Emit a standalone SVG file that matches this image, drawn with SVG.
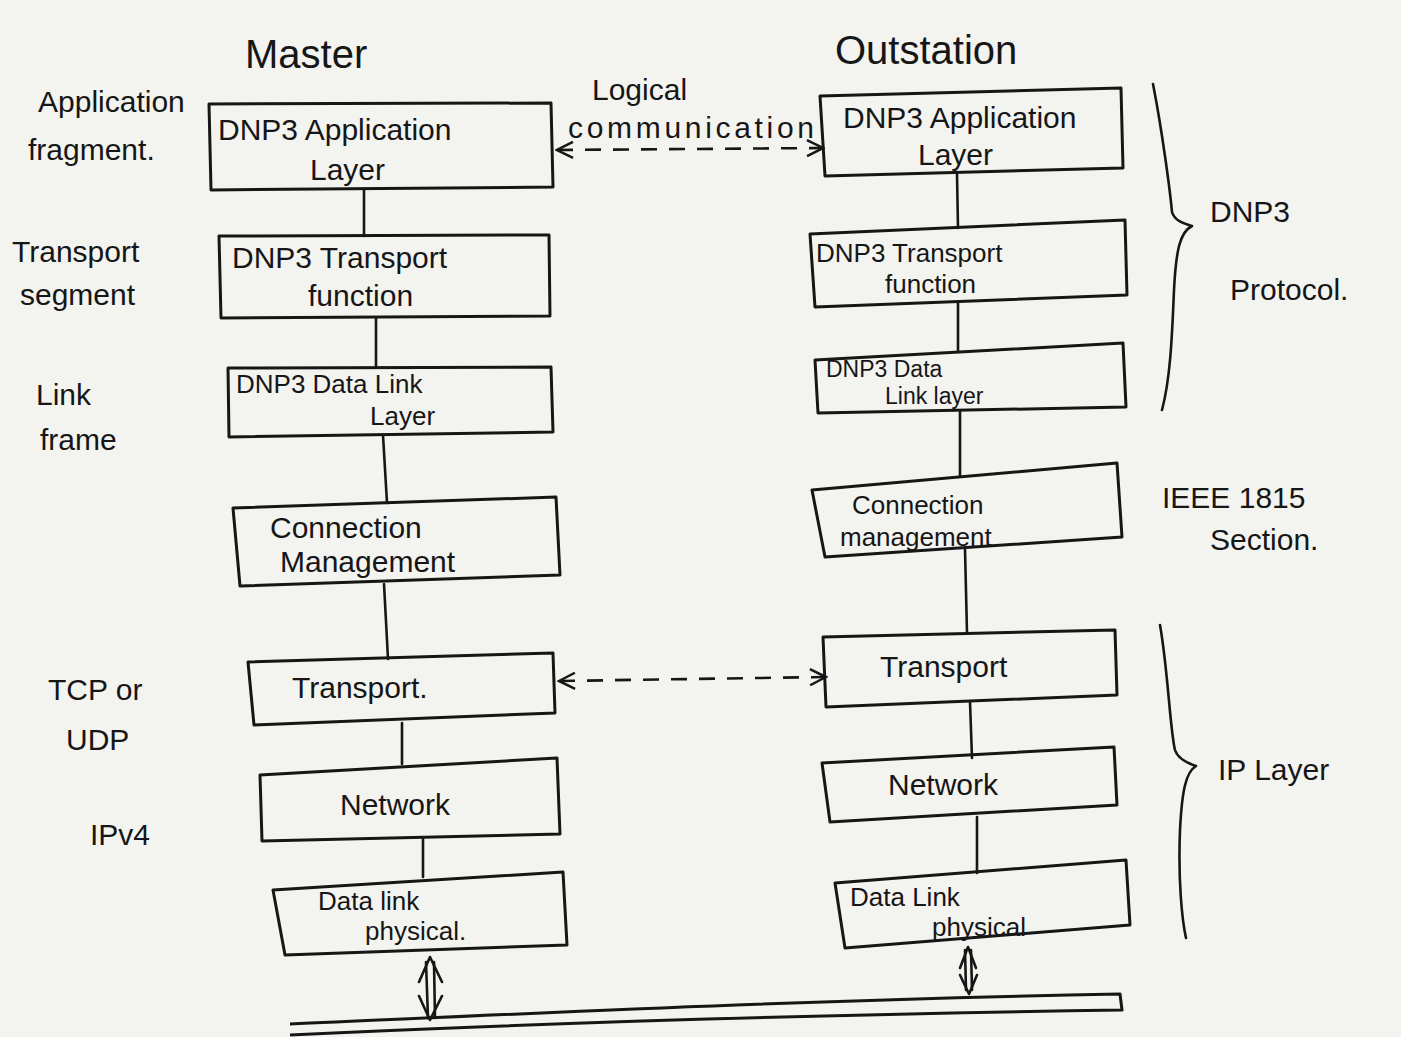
<svg xmlns="http://www.w3.org/2000/svg" width="1401" height="1037" viewBox="0 0 1401 1037">
  <defs>
    <marker id="open" viewBox="0 0 20 20" refX="18" refY="10" markerWidth="20" markerHeight="20" markerUnits="userSpaceOnUse" orient="auto-start-reverse">
      <path d="M2,2 L18,10 L2,18" fill="none" stroke="#161616" stroke-width="2.5"/>
    </marker>
    <style>
      .box { fill: none; stroke: #161616; stroke-width: 3; stroke-linejoin: round; }
      .line { fill: none; stroke: #161616; stroke-width: 2.6; stroke-linecap: round; stroke-linejoin: round; }
      .dash { fill: none; stroke: #161616; stroke-width: 2.6; stroke-dasharray: 16 12; }
      .t { font-family: "Liberation Sans", "DejaVu Sans", sans-serif; fill: #161616; font-size: 30px; }
      .s { font-size: 26px; }
      .xs { font-size: 23px; }
      .big { font-size: 40px; }
    </style>
  </defs>

  <rect width="1401" height="1037" fill="#f3f3f0"/>

  <!-- column headings -->
  <text class="t big" x="245" y="68">Master</text>
  <text class="t big" x="835" y="64">Outstation</text>

  <!-- label over the application-layer link -->
  <g id="lbl-logical">
    <text class="t" x="592" y="100">Logical</text>
    <text class="t" x="568" y="138" textLength="246" lengthAdjust="spacing">communication</text>
  </g>

  <!-- left-hand annotations -->
  <g id="lbl-app-fragment">
    <text class="t" x="38" y="112">Application</text>
    <text class="t" x="28" y="160">fragment.</text>
  </g>
  <g id="lbl-transport-segment">
    <text class="t" x="12" y="262">Transport</text>
    <text class="t" x="20" y="305">segment</text>
  </g>
  <g id="lbl-link-frame">
    <text class="t" x="36" y="405">Link</text>
    <text class="t" x="40" y="450">frame</text>
  </g>
  <g id="lbl-tcp-udp">
    <text class="t" x="48" y="700">TCP or</text>
    <text class="t" x="66" y="750">UDP</text>
  </g>
  <g id="lbl-ipv4">
    <text class="t" x="90" y="845">IPv4</text>
  </g>

  <!-- right-hand annotations -->
  <g id="lbl-dnp3-protocol">
    <text class="t" x="1210" y="222">DNP3</text>
    <text class="t" x="1230" y="300">Protocol.</text>
  </g>
  <g id="lbl-ieee">
    <text class="t" x="1162" y="508">IEEE 1815</text>
    <text class="t" x="1210" y="550">Section.</text>
  </g>
  <g id="lbl-ip-layer">
    <text class="t" x="1218" y="780">IP Layer</text>
  </g>

  <!-- braces -->
  <g id="braces">
    <path class="line" d="M1153,84 C1162,130 1170,190 1172,212 C1175,222 1186,224 1192,226 C1180,232 1176,250 1174,290 C1172,340 1170,380 1162,410"/>
    <path class="line" d="M1160,625 C1168,670 1170,730 1175,750 C1178,760 1190,764 1196,766 C1186,772 1182,790 1180,830 C1178,880 1182,920 1186,938"/>
  </g>

  <!-- master stack -->
  <g id="m-app">
    <path class="box" d="M209,104 L551,103 L553,187 L211,190 Z"/>
    <text class="t" x="218" y="140">DNP3  Application</text>
    <text class="t" x="310" y="180">Layer</text>
  </g>
  <g id="m-transport-fn">
    <path class="box" d="M219,236 L549,235 L550,316 L221,318 Z"/>
    <text class="t" x="232" y="268">DNP3 Transport</text>
    <text class="t" x="308" y="306">function</text>
  </g>
  <g id="m-datalink">
    <path class="box" d="M228,368 L551,367 L553,432 L229,437 Z"/>
    <text class="t s" x="236" y="393">DNP3  Data Link</text>
    <text class="t s" x="370" y="425">Layer</text>
  </g>
  <g id="m-conn">
    <path class="box" d="M233,508 L556,497 L560,575 L240,586 Z"/>
    <text class="t" x="270" y="538">Connection</text>
    <text class="t" x="280" y="572">Management</text>
  </g>
  <g id="m-transport">
    <path class="box" d="M248,662 L553,653 L555,713 L254,725 Z"/>
    <text class="t" x="292" y="698">Transport.</text>
  </g>
  <g id="m-network">
    <path class="box" d="M260,775 L557,758 L560,834 L262,841 Z"/>
    <text class="t" x="340" y="815">Network</text>
  </g>
  <g id="m-phy">
    <path class="box" d="M273,890 L563,872 L567,945 L285,955 Z"/>
    <text class="t s" x="318" y="910">Data link</text>
    <text class="t s" x="365" y="940">physical.</text>
  </g>

  <!-- outstation stack -->
  <g id="o-app">
    <path class="box" d="M820,96 L1121,88 L1123,168 L825,176 Z"/>
    <text class="t" x="843" y="128">DNP3 Application</text>
    <text class="t" x="918" y="165">Layer</text>
  </g>
  <g id="o-transport-fn">
    <path class="box" d="M810,234 L1125,220 L1127,295 L815,307 Z"/>
    <text class="t s" x="816" y="262">DNP3 Transport</text>
    <text class="t s" x="885" y="293">function</text>
  </g>
  <g id="o-datalink">
    <path class="box" d="M815,360 L1123,343 L1126,407 L818,413 Z"/>
    <text class="t xs" x="826" y="377">DNP3  Data</text>
    <text class="t xs" x="885" y="404">Link  layer</text>
  </g>
  <g id="o-conn">
    <path class="box" d="M812,490 L1117,463 L1122,537 L825,557 Z"/>
    <text class="t s" x="852" y="514">Connection</text>
    <text class="t s" x="840" y="546">management</text>
  </g>
  <g id="o-transport">
    <path class="box" d="M823,637 L1115,630 L1117,695 L826,707 Z"/>
    <text class="t" x="880" y="677">Transport</text>
  </g>
  <g id="o-network">
    <path class="box" d="M822,763 L1114,747 L1117,805 L830,822 Z"/>
    <text class="t" x="888" y="795">Network</text>
  </g>
  <g id="o-phy">
    <path class="box" d="M835,883 L1126,860 L1130,925 L845,948 Z"/>
    <text class="t s" x="850" y="906">Data  Link</text>
    <text class="t s" x="932" y="936">physical</text>
  </g>

  <!-- shared medium -->
  <g id="bus">
    <path class="box" d="M290,1024 C500,1015 800,1000 1120,994 L1122,1010 C800,1015 500,1025 290,1035"/>
  </g>

  <!-- connectors -->
  <g id="connectors">
    <path class="line" d="M364,189 L364,236"/>
    <path class="line" d="M376,318 L376,367"/>
    <path class="line" d="M383,435 L387,503"/>
    <path class="line" d="M384,584 L388,659"/>
    <path class="line" d="M402,723 L402,764"/>
    <path class="line" d="M423,839 L423,877"/>
    <path class="line" d="M957,174 L958,228"/>
    <path class="line" d="M958,302 L958,352"/>
    <path class="line" d="M960,412 L960,476"/>
    <path class="line" d="M965,549 L967,633"/>
    <path class="line" d="M970,702 L972,758"/>
    <path class="line" d="M977,817 L977,873"/>
    <path class="dash" d="M557,150 L823,148" marker-start="url(#open)" marker-end="url(#open)"/>
    <path class="dash" d="M559,681 L826,677" marker-start="url(#open)" marker-end="url(#open)"/>
    <!-- physical links: double-shafted two-way arrows -->
    <path class="line" d="M426,962 L428,1018 M434,962 L435,1018"/>
    <path class="line" d="M419,982 L430,957 L442,982 M419,996 L430,1020 L442,996"/>
    <path class="line" d="M965,950 L966,990 M971,950 L972,990"/>
    <path class="line" d="M960,968 L968,947 L976,968 M960,975 L969,994 L977,975"/>
  </g>
</svg>
